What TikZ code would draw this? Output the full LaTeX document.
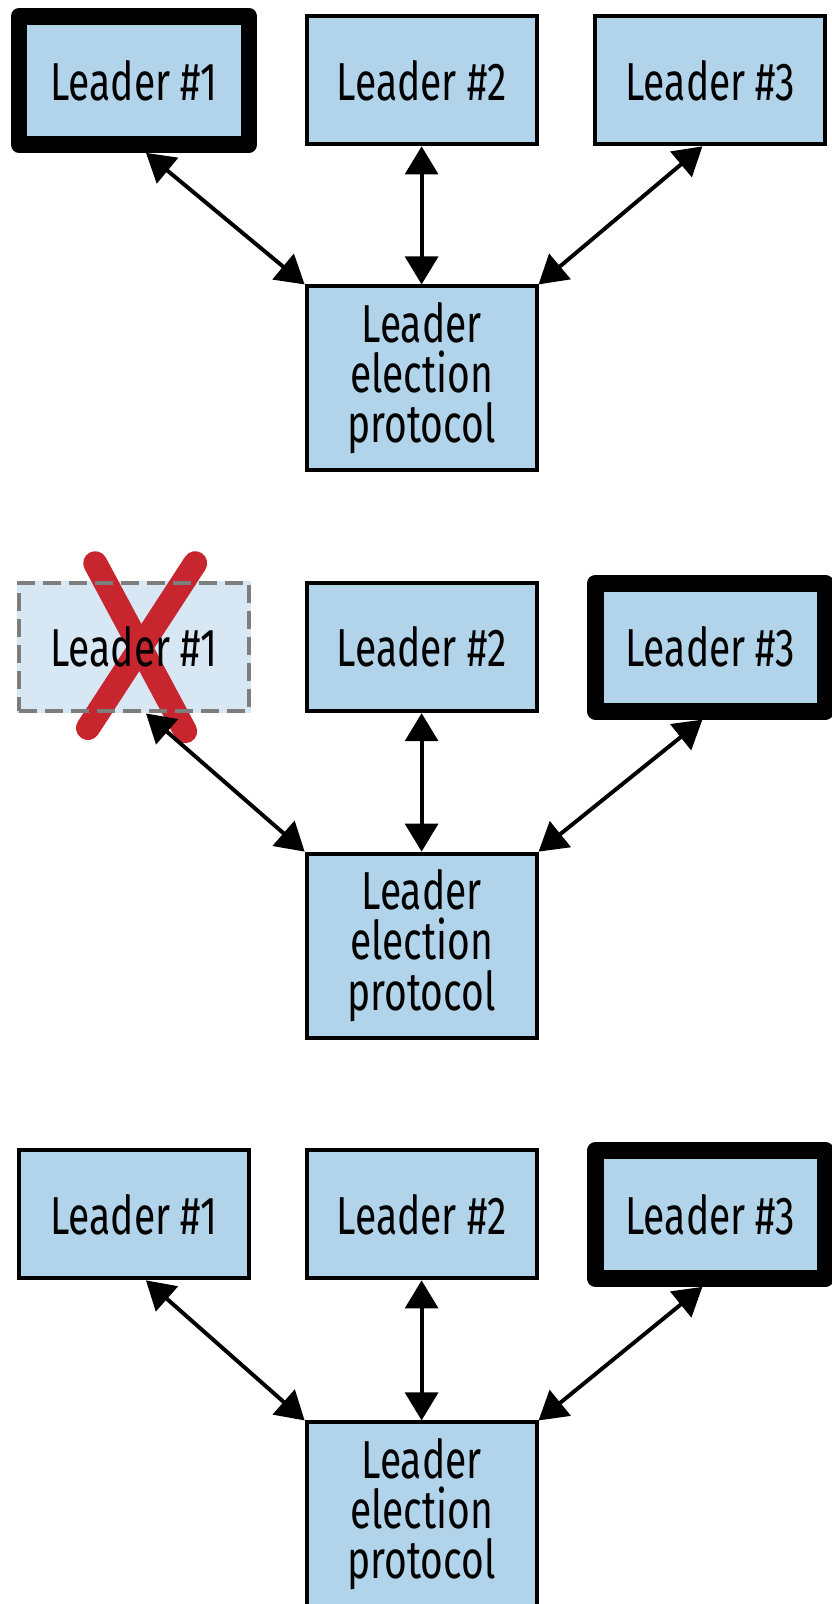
\documentclass[tikz,border=0pt]{standalone}
\usepackage{fontspec}
\setmainfont{Fira Sans}[FakeStretch=0.73]
\usepackage{xcolor}
\usepackage{tikz}
\usetikzlibrary{arrows.meta,backgrounds}
\definecolor{boxBlue}{RGB}{178,212,234}
\definecolor{downBlue}{RGB}{215,231,243}
\definecolor{downGray}{RGB}{125,125,125}
\definecolor{crossRed}{RGB}{200,38,46}
\tikzset{%
  leader/.style={rectangle, draw=black, fill=boxBlue, line width=2.8pt, minimum width=5.75cm, minimum height=3.2cm, align=center, font=\fontsize{38}{35.6}\selectfont},
  %
  currentLeader/.style={leader, line width=12pt, line join=round},% the elected one
  failedLeader/.style={leader, draw=downGray, fill=none, line width=3.2pt, dash pattern=on 0.45cm off 0.2cm},% node that went down, filled behind the cross
  protocol/.style={leader, minimum height=4.6cm},
  % ---
  % links
  % ---
  link/.style={{Triangle[length=0.7cm,width=0.82cm]}-{Triangle[length=0.7cm,width=0.82cm]}, line width=2.8pt},
  cross/.style={draw=crossRed, line width=0.6cm, line cap=round}}

\begin{document}
\begin{tikzpicture}
    \useasboundingbox (0,0) rectangle (20.775,-40.1);

    % before the failure
    \node[currentLeader] (l11) at (3.35,-2.01) {Leader \#1};
    \node[leader] (l12) at (10.54,-2.01) {Leader \#2};
    \node[leader] (l13) at (17.76,-2.01) {Leader \#3};
    \node[protocol] (p1) at (10.54,-9.46) {Leader\\election\\protocol};

    \draw[link] ([xshift=0.3cm]l11.south) -- (p1.north west);
    \draw[link] (l12) -- (p1);
    \draw[link] ([xshift=-0.2cm]l13.south) -- (p1.north east);

    % leader #1 goes down
    \node[failedLeader] (l21) at (3.35,-16.18) {Leader \#1};
    \node[leader] (l22) at (10.54,-16.18) {Leader \#2};
    \node[currentLeader] (l23) at (17.76,-16.18) {Leader \#3};
    \node[protocol] (p2) at (10.54,-23.64) {Leader\\election\\protocol};

    \draw[link] ([xshift=0.3cm]l21.south) -- (p2.north west);
    \draw[link] (l22) -- (p2);
    \draw[link] ([xshift=-0.2cm]l23.south) -- (p2.north east);

    \begin{scope}[on background layer]
      \fill[downBlue] (l21.south west) rectangle (l21.north east);
      \draw[cross] (2.38,-14.08) -- (4.63,-18.28);
      \draw[cross] (4.88,-14.08) -- (2.2,-18.2);
    \end{scope}

    % leader #1 is back
    \node[leader] (l31) at (3.35,-30.36) {Leader \#1};
    \node[leader] (l32) at (10.54,-30.36) {Leader \#2};
    \node[currentLeader] (l33) at (17.76,-30.36) {Leader \#3};
    \node[protocol] (p3) at (10.54,-37.86) {Leader\\election\\protocol};

    \draw[link] ([xshift=0.3cm]l31.south) -- (p3.north west);
    \draw[link] (l32) -- (p3);
    \draw[link] ([xshift=-0.2cm]l33.south) -- (p3.north east);
  \end{tikzpicture}
\end{document}
